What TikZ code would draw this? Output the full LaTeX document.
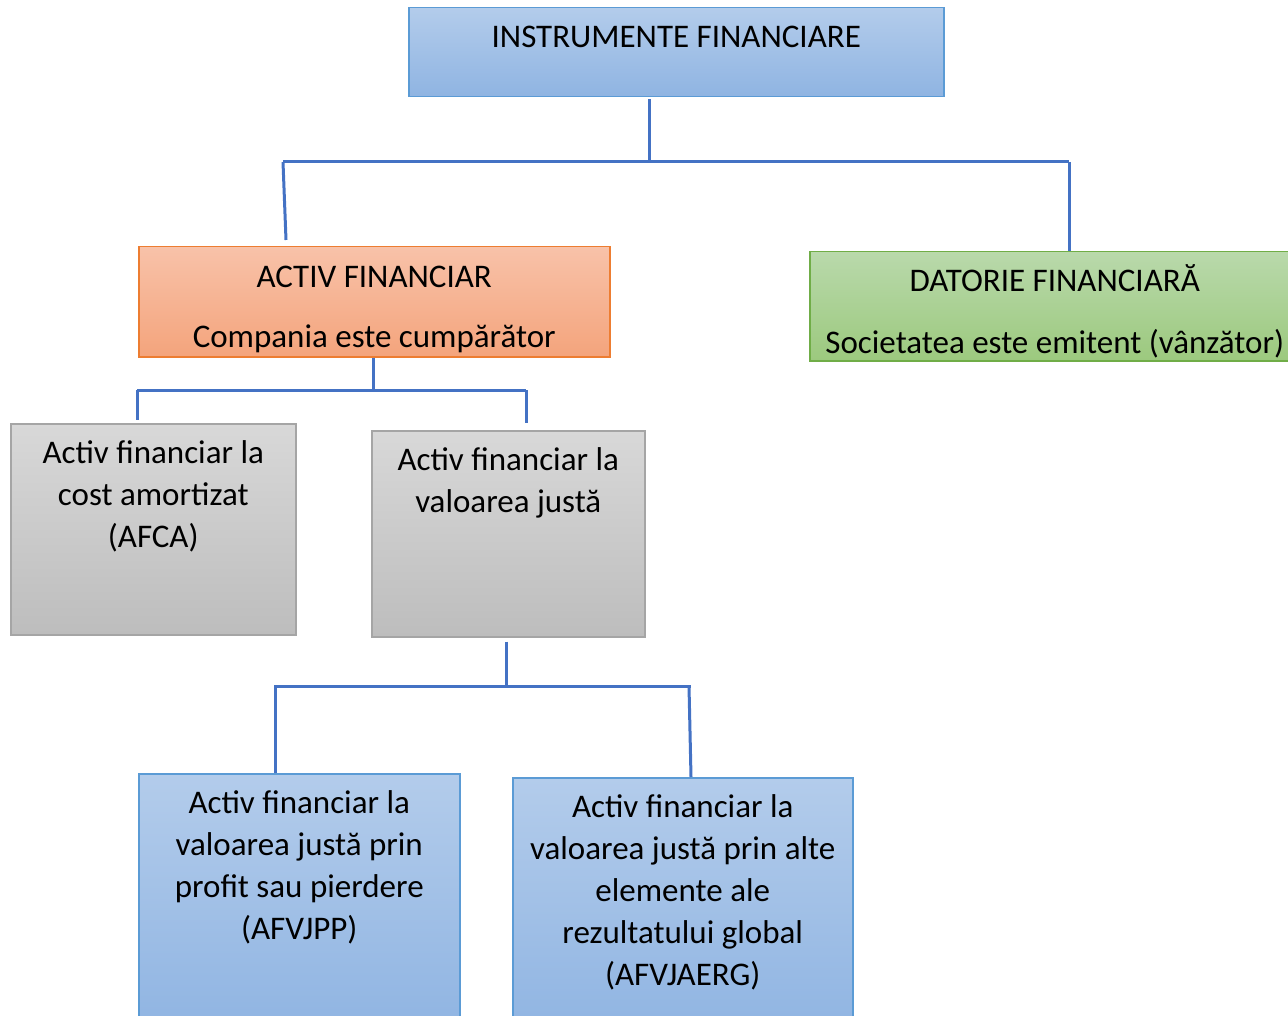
\documentclass[tikz,border=0pt]{standalone}
\usepackage{fontspec}
\setmainfont{Carlito}
\usetikzlibrary{positioning}
\definecolor{blueTop}{HTML}{B3CCEB}
\definecolor{blueBot}{HTML}{8FB4E2}
\definecolor{blueEdge}{HTML}{5B9BD5}
\definecolor{orangeTop}{HTML}{F8C2A9}
\definecolor{orangeBot}{HTML}{F4A47C}
\definecolor{orangeEdge}{HTML}{ED7D31}
\definecolor{greenTop}{HTML}{B9D9AB}
\definecolor{greenBot}{HTML}{9CC97E}
\definecolor{greenEdge}{HTML}{70AD47}
\definecolor{grayTop}{HTML}{D8D8D8}
\definecolor{grayBot}{HTML}{BDBDBD}
\definecolor{grayEdge}{HTML}{A5A5A5}
\definecolor{connBlue}{HTML}{4472C4}
\tikzset{box/.style={anchor=north west, inner sep=0, line width=1.5pt}}
\tikzset{bluebox/.style={box, draw=blueEdge, top color=blueTop, bottom color=blueBot}}
\tikzset{orangebox/.style={box, draw=orangeEdge, top color=orangeTop, bottom color=orangeBot}}
\tikzset{greenbox/.style={box, draw=greenEdge, top color=greenTop, bottom color=greenBot}}
\tikzset{graybox/.style={box, draw=grayEdge, top color=grayTop, bottom color=grayBot}}
\tikzset{txt/.style={anchor=north, align=center, inner sep=0, font=\fontsize{33}{42}\selectfont}}
\tikzset{conn/.style={draw=connBlue, line width=3pt}}

\begin{document}
\begin{tikzpicture}[x=1pt, y=-1pt]
        \useasboundingbox (0,0) rectangle (1288,1016);
        \clip (0,0) rectangle (1288,1016);

        % boxes
        \node[bluebox, minimum width=535, minimum height=89,
            label={[txt, yshift=-19pt]north:INSTRUMENTE FINANCIARE}] (instr) at (408,7) {};
        \node[orangebox, minimum width=471, minimum height=110,
            label={[txt, yshift=-20pt]north:ACTIV FINANCIAR\\[18pt]Compania este cumpărător}] (activ) at (138,246) {};
        \node[greenbox, minimum width=490, minimum height=109,
            label={[txt, yshift=-13pt]north:DATORIE FINANCIARĂ\\[20pt]Societatea este emitent (vânzător)}] (datorie) at (809,251) {};
        \node[graybox, minimum width=285, minimum height=211,
            label={[txt, yshift=-17pt]north:Activ financiar la\\cost amortizat\\(AFCA)}] (afca) at (10,423) {};
        \node[graybox, minimum width=273, minimum height=206,
            label={[txt, yshift=-17pt]north:Activ financiar la\\valoarea justă}] (valoare) at (371,430) {};
        \node[bluebox, minimum width=321, minimum height=260,
            label={[txt, yshift=-17pt]north:Activ financiar la\\valoarea justă prin\\profit sau pierdere\\(AFVJPP)}] (afvjpp) at (138,773) {};
        \node[bluebox, minimum width=340, minimum height=260,
            label={[txt, yshift=-17pt]north:Activ financiar la\\valoarea justă prin alte\\elemente ale\\rezultatului global\\(AFVJAERG)}] (afvjaerg) at (512,777) {};

        % connectors
        \coordinate (j0) at (649,162);
        \coordinate (jl0) at (283,162);
        \coordinate (jr0) at (1069,162);
        \draw[conn] ([yshift=-2pt]j0 |- instr.south) -- (j0);
        \draw[conn] (jl0) -- (jr0);
        \draw[conn] (jl0) -- ([xshift=3pt,yshift=6pt]jl0 |- activ.north);
        \draw[conn] (jr0) -- (jr0 |- datorie.north);

        \coordinate (j1) at (373,390);
        \coordinate (jl1) at (137,390);
        \coordinate (jr1) at (526,390);
        \draw[conn] (j1 |- activ.south) -- (j1);
        \draw[conn] (jl1) -- (jr1);
        \draw[conn] (jl1) -- ([yshift=3pt]jl1 |- afca.north);
        \draw[conn] (jr1) -- ([yshift=7pt]jr1 |- valoare.north);

        \coordinate (j2) at (506,686);
        \coordinate (jl2) at (275,686);
        \coordinate (jr2) at (689,686);
        \draw[conn] ([yshift=-4pt]j2 |- valoare.south) -- (j2);
        \draw[conn] ([xshift=-1pt]jl2) -- ([xshift=2pt]jr2);
        \draw[conn] (jl2) -- (jl2 |- afvjpp.north);
        \draw[conn] (jr2) -- ([xshift=2pt]jr2 |- afvjaerg.north);
    \end{tikzpicture}
\end{document}
